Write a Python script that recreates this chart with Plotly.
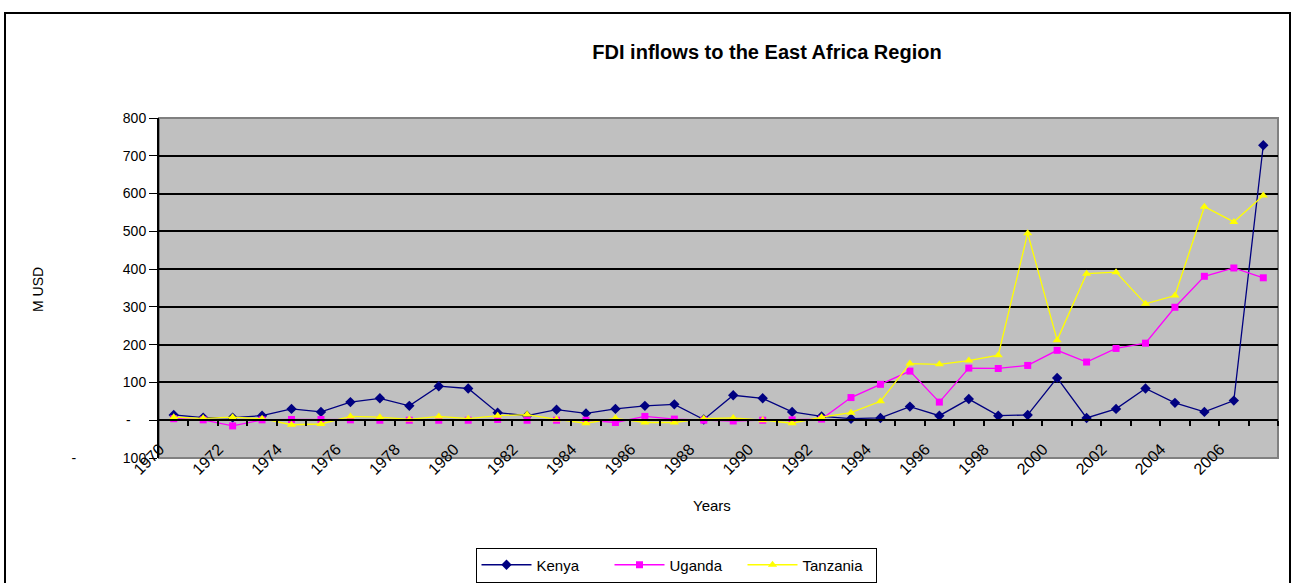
import plotly.graph_objects as go

years = list(range(1970, 2008))

kenya = [14, 7, 7, 12, 30, 22, 48, 58, 38, 90,
         84, 20, 12, 28, 18, 30, 38, 42, 2, 66,
         58, 22, 10, 4, 6, 36, 12, 56, 12, 14,
         112, 6, 30, 84, 46, 22, 52, 728]

uganda = [4, 1, -15, 1, 2, 2, 1, 0, 0, 0,
          0, 2, 0, 0, 0, -6, 10, 3, 0, -2,
          0, 1, 3, 60, 95, 130, 48, 138, 137, 145,
          185, 154, 190, 204, 299, 381, 403, 377]

tanzania = [8, 5, 8, 4, -12, -10, 10, 8, 2, 10,
            4, 12, 15, 2, -8, 5, -6, -6, 4, 6,
            0, -8, 8, 20, 50, 150, 148, 158, 172, 495,
            212, 388, 392, 308, 330, 565, 525, 595]

y_ticks = [-100, 0, 100, 200, 300, 400, 500, 600, 700, 800]
NB = "\u00a0"
y_ticktext = ["-" + NB * 12 + "100", "-" + NB * 4] + [str(v) for v in y_ticks[2:]]
x_label_years = years[::2]
boundaries = [y + 0.5 for y in years]

FONT = "Liberation Sans, Arial, sans-serif"

fig = go.Figure()
fig.add_trace(go.Scatter(x=years, y=kenya, name="Kenya", mode="lines+markers",
                         line=dict(color="#000080", width=1.3),
                         marker=dict(symbol="diamond", size=8, color="#000080")))
fig.add_trace(go.Scatter(x=years, y=uganda, name="Uganda", mode="lines+markers",
                         line=dict(color="#FF00FF", width=1.3),
                         marker=dict(symbol="square", size=7, color="#FF00FF")))
fig.add_trace(go.Scatter(x=years, y=tanzania, name="Tanzania", mode="lines+markers",
                         line=dict(color="#FFFF00", width=1.3),
                         marker=dict(symbol="triangle-up", size=8, color="#FFFF00")))
# helper trace so the zero-line tick axis is drawn
fig.add_trace(go.Scatter(x=[years[0]], y=[None], xaxis="x2", yaxis="y",
                         mode="none", showlegend=False, hoverinfo="skip"))

fig.update_layout(
    width=1296, height=583,
    margin=dict(l=159, r=18, t=118, b=125),
    paper_bgcolor="white",
    plot_bgcolor="#C0C0C0",
    font=dict(family=FONT, color="black", size=13),
    title=dict(text="<b>FDI inflows to the East Africa Region</b>",
               x=767 / 1296, xanchor="center", y=1 - 52 / 583, yanchor="middle",
               font=dict(size=20, family=FONT, color="black")),
    xaxis=dict(range=[1969.5, 2007.5], tickvals=x_label_years,
               ticktext=[str(v) for v in x_label_years],
               tickangle=-45, ticks="", showgrid=False, showline=False,
               zeroline=False, anchor="free", position=0.065,
               ticklabelshift=-14,
               tickfont=dict(size=16, family=FONT)),
    xaxis2=dict(range=[1969.5, 2007.5], overlaying="x", anchor="free",
                position=1 / 9, tickvals=boundaries, ticks="outside",
                ticklen=5, tickwidth=1.5, tickcolor="black",
                showticklabels=False, showgrid=False, showline=True,
                linecolor="black", linewidth=2, zeroline=False),
    yaxis=dict(range=[-100, 800], tickvals=y_ticks, ticktext=y_ticktext,
               showgrid=True, gridcolor="black", gridwidth=2,
               zeroline=True, zerolinecolor="black", zerolinewidth=2,
               showline=True, linecolor="black", linewidth=2,
               ticks="outside", ticklen=8, tickcolor="black",
               tickfont=dict(size=14, family=FONT)),
    legend=dict(orientation="h", xref="container", yref="container",
                x=676 / 1296, xanchor="center", y=1 - 565 / 583, yanchor="middle",
                bordercolor="black", borderwidth=1, bgcolor="white",
                entrywidth=68, itemwidth=50,
                font=dict(size=15, family=FONT)),
    annotations=[
        dict(text="Years", xref="paper", yref="paper",
             x=(712 - 159) / 1119, y=(458 - 505) / 340,
             xanchor="center", yanchor="middle", showarrow=False,
             font=dict(size=15, family=FONT)),
        dict(text="M USD", xref="paper", yref="paper",
             x=(38 - 159) / 1119, y=(458 - 290) / 340, textangle=-90,
             xanchor="center", yanchor="middle", showarrow=False,
             font=dict(size=14, family=FONT)),
    ],
    shapes=[
        dict(type="rect", xref="paper", yref="paper", x0=0, x1=1, y0=0, y1=1,
             line=dict(color="#808080", width=2), layer="below"),
        dict(type="rect", xref="paper", yref="paper",
             x0=(5 - 159) / 1119, x1=(1290 - 159) / 1119,
             y0=(458 - 600) / 340, y1=(458 - 13) / 340,
             line=dict(color="black", width=2), layer="below"),
    ],
)

fig.write_html("out.html")
